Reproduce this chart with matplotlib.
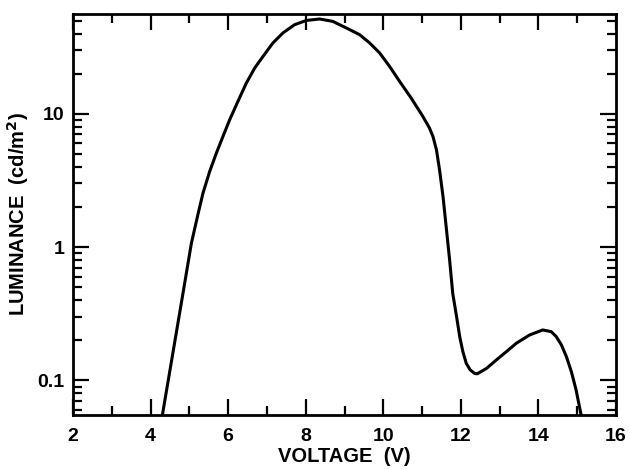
import matplotlib
matplotlib.use("Agg")
import matplotlib.pyplot as plt
from matplotlib.ticker import LogLocator, MultipleLocator, FixedLocator

plt.rcParams['font.family'] = ['Liberation Sans', 'DejaVu Sans']
plt.rcParams['font.weight'] = 'bold'

# values
voltage = [4.27, 4.304, 4.835, 5.052, 5.229, 5.351, 5.523, 5.696, 5.866, 6.039,
           6.253, 6.469, 6.683, 6.897, 7.155, 7.412, 7.714, 8.015, 8.358, 8.70,
           9.13, 9.389, 9.647, 9.905, 10.16, 10.42, 10.72, 11.02, 11.19, 11.28,
           11.37, 11.45, 11.54, 11.62, 11.71, 11.79, 11.89, 11.97, 12.05, 12.14,
           12.24, 12.35, 12.42, 12.66, 12.91, 13.17, 13.43, 13.77, 14.11, 14.33,
           14.46, 14.59, 14.72, 14.85, 14.97, 15.10, 15.13]
luminance = [0.05, 0.055, 0.45, 1.07, 1.80, 2.54, 3.69, 5.07, 6.76, 9.02,
             12.4, 17.0, 22.0, 26.9, 34.0, 40.4, 46.6, 50.1, 51.4, 49.3,
             42.8, 39.2, 34.0, 28.6, 22.7, 17.5, 13.1, 9.55, 7.82, 6.76,
             5.37, 3.80, 2.39, 1.43, 0.80, 0.45, 0.30, 0.213, 0.165, 0.134,
             0.120, 0.113, 0.112, 0.123, 0.142, 0.164, 0.190, 0.219, 0.239, 0.232,
             0.213, 0.185, 0.151, 0.116, 0.085, 0.055, 0.05]

x_ticks = [2, 4, 6, 8, 10, 12, 14, 16]
y_ticks = [0.1, 1, 10]
y_tick_labels = ['0.1', '1', '10']

fig = plt.figure(figsize=(6.3, 4.69), dpi=100)
ax = fig.add_axes([0.1159, 0.1151, 0.8619, 0.855])

ax.plot(voltage, luminance, color='black', linewidth=2.2, solid_joinstyle='round')

ax.set_yscale('log')
ax.set_xlim(2, 16)
ax.set_ylim(0.055, 56)

ax.set_xticks(x_ticks)
ax.xaxis.set_minor_locator(MultipleLocator(1))
ax.yaxis.set_major_locator(FixedLocator(y_ticks))
ax.set_yticklabels(y_tick_labels)
ax.yaxis.set_minor_locator(LogLocator(base=10, subs=range(2, 10), numticks=20))
ax.yaxis.set_minor_formatter(plt.NullFormatter())

ax.tick_params(which='both', direction='in', top=True, right=True, width=1.6)
ax.tick_params(which='major', length=11.5)
ax.tick_params(which='minor', length=6.5)
ax.tick_params(axis='x', which='major', pad=9, labelsize=14)
ax.tick_params(axis='y', which='major', pad=6, labelsize=14)
for lab in ax.get_xticklabels() + ax.get_yticklabels():
    lab.set_fontweight('bold')

for s in ax.spines.values():
    s.set_linewidth(2.0)

ax.set_xlabel('VOLTAGE  (V)', fontsize=14.5, fontweight='bold', labelpad=2)
ax.set_ylabel('LUMINANCE  (cd/m$^\\mathbf{2}$)', fontsize=14.5, fontweight='bold', labelpad=5)

fig.savefig('out.png', dpi=100)
